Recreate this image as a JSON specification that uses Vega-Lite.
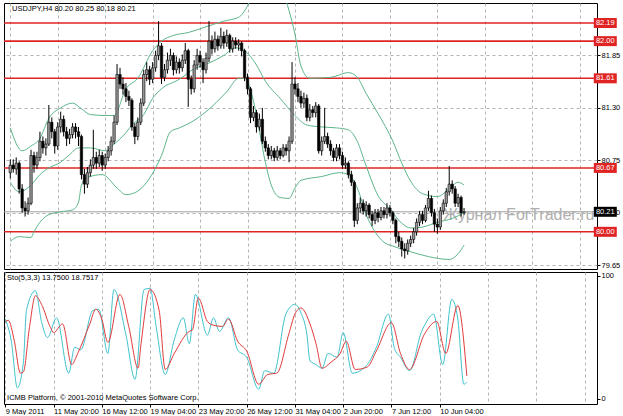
{
  "$schema": "https://vega.github.io/schema/vega-lite/v6.json",
  "padding": {"left": 2, "top": 2, "right": 0, "bottom": 0},
  "autosize": {"type": "pad"},
  "background": "white",
  "spacing": 1,
  "config": {
    "view": {"stroke": "#000", "strokeWidth": 1},
    "font": "Liberation Sans",
    "axis": {"labelFont": "Liberation Sans", "labelFontSize": 7.5, "labelColor": "#000", "tickColor": "#000", "tickSize": 3, "labelPadding": 1, "gridColor": "#b4b4b4", "gridDash": [3, 3], "gridWidth": 1, "domain": false, "title": null, "labelOverlap": false, "labelFlush": false, "labelBound": false}
  },
  "datasets": {
    "candles": [
      {"i":0,"o":80.62,"h":80.76,"l":80.56,"c":80.70},{"i":1,"o":80.70,"h":80.76,"l":80.62,"c":80.66},{"i":2,"o":80.66,"h":80.78,"l":80.60,"c":80.72},{"i":3,"o":80.72,"h":80.74,"l":80.40,"c":80.45},{"i":4,"o":80.45,"h":80.50,"l":80.20,"c":80.25},{"i":5,"o":80.25,"h":80.32,"l":80.16,"c":80.22},{"i":6,"o":80.22,"h":80.36,"l":80.18,"c":80.30},{"i":7,"o":80.30,"h":80.86,"l":80.28,"c":80.80},{"i":8,"o":80.80,"h":80.84,"l":80.62,"c":80.70},{"i":9,"o":80.70,"h":80.84,"l":80.66,"c":80.78},
      {"i":10,"o":80.78,"h":81.05,"l":80.74,"c":80.95},{"i":11,"o":80.95,"h":81.00,"l":80.82,"c":80.88},{"i":12,"o":80.88,"h":80.98,"l":80.80,"c":80.92},{"i":13,"o":80.92,"h":81.33,"l":80.90,"c":81.15},{"i":14,"o":81.15,"h":81.20,"l":80.98,"c":81.05},{"i":15,"o":81.05,"h":81.08,"l":80.82,"c":80.90},{"i":16,"o":80.90,"h":81.15,"l":80.86,"c":81.10},{"i":17,"o":81.10,"h":81.26,"l":81.04,"c":81.18},{"i":18,"o":81.18,"h":81.22,"l":81.00,"c":81.05},{"i":19,"o":81.05,"h":81.10,"l":80.90,"c":80.98},
      {"i":20,"o":80.98,"h":81.08,"l":80.92,"c":81.02},{"i":21,"o":81.02,"h":81.14,"l":80.98,"c":81.10},{"i":22,"o":81.10,"h":81.14,"l":80.98,"c":81.05},{"i":23,"o":81.05,"h":81.10,"l":80.90,"c":81.00},{"i":24,"o":81.00,"h":81.02,"l":80.55,"c":80.60},{"i":25,"o":80.60,"h":80.66,"l":80.40,"c":80.50},{"i":26,"o":80.50,"h":80.68,"l":80.46,"c":80.62},{"i":27,"o":80.62,"h":80.76,"l":80.58,"c":80.70},{"i":28,"o":80.70,"h":81.07,"l":80.66,"c":80.78},{"i":29,"o":80.78,"h":80.84,"l":80.66,"c":80.72},
      {"i":30,"o":80.72,"h":80.86,"l":80.68,"c":80.80},{"i":31,"o":80.80,"h":80.84,"l":80.64,"c":80.70},{"i":32,"o":80.70,"h":80.82,"l":80.66,"c":80.78},{"i":33,"o":80.78,"h":80.90,"l":80.74,"c":80.85},{"i":34,"o":80.85,"h":81.00,"l":80.80,"c":80.95},{"i":35,"o":80.95,"h":81.22,"l":80.92,"c":81.15},{"i":36,"o":81.15,"h":81.76,"l":81.12,"c":81.65},{"i":37,"o":81.65,"h":81.72,"l":81.50,"c":81.55},{"i":38,"o":81.55,"h":81.62,"l":81.44,"c":81.50},{"i":39,"o":81.50,"h":81.56,"l":81.36,"c":81.42},
      {"i":40,"o":81.42,"h":81.48,"l":81.32,"c":81.38},{"i":41,"o":81.38,"h":81.40,"l":81.06,"c":81.10},{"i":42,"o":81.10,"h":81.14,"l":80.92,"c":81.00},{"i":43,"o":81.00,"h":81.20,"l":80.96,"c":81.15},{"i":44,"o":81.15,"h":81.40,"l":81.12,"c":81.35},{"i":45,"o":81.35,"h":81.70,"l":81.32,"c":81.65},{"i":46,"o":81.65,"h":81.78,"l":81.58,"c":81.70},{"i":47,"o":81.70,"h":81.74,"l":81.54,"c":81.60},{"i":48,"o":81.60,"h":81.78,"l":81.56,"c":81.72},{"i":49,"o":81.72,"h":81.90,"l":81.68,"c":81.85},
      {"i":50,"o":81.85,"h":82.21,"l":81.80,"c":81.95},{"i":51,"o":81.95,"h":81.98,"l":81.55,"c":81.62},{"i":52,"o":81.62,"h":81.76,"l":81.58,"c":81.70},{"i":53,"o":81.70,"h":81.88,"l":81.66,"c":81.80},{"i":54,"o":81.80,"h":81.92,"l":81.74,"c":81.85},{"i":55,"o":81.85,"h":81.88,"l":81.64,"c":81.70},{"i":56,"o":81.70,"h":81.84,"l":81.66,"c":81.78},{"i":57,"o":81.78,"h":81.82,"l":81.66,"c":81.72},{"i":58,"o":81.72,"h":81.86,"l":81.68,"c":81.80},{"i":59,"o":81.80,"h":81.98,"l":81.76,"c":81.90},
      {"i":60,"o":81.90,"h":81.92,"l":81.31,"c":81.60},{"i":61,"o":81.60,"h":81.64,"l":81.44,"c":81.50},{"i":62,"o":81.50,"h":81.80,"l":81.46,"c":81.75},{"i":63,"o":81.75,"h":81.92,"l":81.70,"c":81.85},{"i":64,"o":81.85,"h":81.90,"l":81.72,"c":81.78},{"i":65,"o":81.78,"h":81.82,"l":81.56,"c":81.70},{"i":66,"o":81.70,"h":81.88,"l":81.66,"c":81.82},{"i":67,"o":81.82,"h":82.21,"l":81.78,"c":82.00},{"i":68,"o":82.00,"h":82.06,"l":81.86,"c":81.92},{"i":69,"o":81.92,"h":82.10,"l":81.88,"c":82.02},
      {"i":70,"o":82.02,"h":82.06,"l":81.90,"c":81.95},{"i":71,"o":81.95,"h":82.14,"l":81.92,"c":82.05},{"i":72,"o":82.05,"h":82.10,"l":81.92,"c":81.98},{"i":73,"o":81.98,"h":82.12,"l":81.94,"c":82.06},{"i":74,"o":82.06,"h":82.08,"l":81.88,"c":81.92},{"i":75,"o":81.92,"h":82.04,"l":81.88,"c":82.00},{"i":76,"o":82.00,"h":82.04,"l":81.92,"c":81.96},{"i":77,"o":81.96,"h":82.02,"l":81.90,"c":81.98},{"i":78,"o":81.98,"h":82.00,"l":81.84,"c":81.90},{"i":79,"o":81.90,"h":81.92,"l":81.58,"c":81.62},
      {"i":80,"o":81.62,"h":81.66,"l":81.44,"c":81.50},{"i":81,"o":81.50,"h":81.52,"l":81.14,"c":81.20},{"i":82,"o":81.20,"h":81.32,"l":81.16,"c":81.25},{"i":83,"o":81.25,"h":81.28,"l":81.04,"c":81.10},{"i":84,"o":81.10,"h":81.24,"l":81.06,"c":81.18},{"i":85,"o":81.18,"h":81.30,"l":80.92,"c":80.95},{"i":86,"o":80.95,"h":81.00,"l":80.84,"c":80.88},{"i":87,"o":80.88,"h":80.92,"l":80.76,"c":80.80},{"i":88,"o":80.80,"h":80.90,"l":80.76,"c":80.85},{"i":89,"o":80.85,"h":80.88,"l":80.74,"c":80.78},
      {"i":90,"o":80.78,"h":80.90,"l":80.75,"c":80.85},{"i":91,"o":80.85,"h":80.88,"l":80.76,"c":80.80},{"i":92,"o":80.80,"h":80.92,"l":80.78,"c":80.88},{"i":93,"o":80.88,"h":80.92,"l":80.80,"c":80.85},{"i":94,"o":80.85,"h":81.00,"l":80.73,"c":80.95},{"i":95,"o":80.95,"h":81.78,"l":80.92,"c":81.55},{"i":96,"o":81.55,"h":81.62,"l":81.44,"c":81.50},{"i":97,"o":81.50,"h":81.56,"l":81.36,"c":81.42},{"i":98,"o":81.42,"h":81.48,"l":81.30,"c":81.35},{"i":99,"o":81.35,"h":81.46,"l":81.30,"c":81.40},
      {"i":100,"o":81.40,"h":81.44,"l":81.16,"c":81.20},{"i":101,"o":81.20,"h":81.34,"l":81.16,"c":81.28},{"i":102,"o":81.28,"h":81.32,"l":81.20,"c":81.25},{"i":103,"o":81.25,"h":81.36,"l":81.20,"c":81.32},{"i":104,"o":81.32,"h":81.34,"l":80.82,"c":80.85},{"i":105,"o":80.85,"h":81.00,"l":80.80,"c":80.95},{"i":106,"o":80.95,"h":81.30,"l":80.92,"c":81.00},{"i":107,"o":81.00,"h":81.04,"l":80.88,"c":80.92},{"i":108,"o":80.92,"h":80.96,"l":80.80,"c":80.85},{"i":109,"o":80.85,"h":80.88,"l":80.74,"c":80.78},
      {"i":110,"o":80.78,"h":80.92,"l":80.74,"c":80.88},{"i":111,"o":80.88,"h":80.92,"l":80.76,"c":80.80},{"i":112,"o":80.80,"h":80.84,"l":80.66,"c":80.70},{"i":113,"o":80.70,"h":80.78,"l":80.66,"c":80.72},{"i":114,"o":80.72,"h":80.74,"l":80.56,"c":80.60},{"i":115,"o":80.60,"h":80.64,"l":80.48,"c":80.52},{"i":116,"o":80.52,"h":80.54,"l":80.05,"c":80.12},{"i":117,"o":80.12,"h":80.30,"l":80.08,"c":80.25},{"i":118,"o":80.25,"h":80.36,"l":80.20,"c":80.30},{"i":119,"o":80.30,"h":80.34,"l":80.18,"c":80.22},
      {"i":120,"o":80.22,"h":80.32,"l":80.16,"c":80.28},{"i":121,"o":80.28,"h":80.30,"l":80.14,"c":80.18},{"i":122,"o":80.18,"h":80.22,"l":80.06,"c":80.12},{"i":123,"o":80.12,"h":80.24,"l":80.08,"c":80.20},{"i":124,"o":80.20,"h":80.24,"l":80.10,"c":80.15},{"i":125,"o":80.15,"h":80.26,"l":80.12,"c":80.22},{"i":126,"o":80.22,"h":80.26,"l":80.14,"c":80.18},{"i":127,"o":80.18,"h":80.30,"l":80.14,"c":80.25},{"i":128,"o":80.25,"h":80.28,"l":80.16,"c":80.20},{"i":129,"o":80.20,"h":80.22,"l":80.08,"c":80.12},
      {"i":130,"o":80.12,"h":80.14,"l":79.88,"c":79.95},{"i":131,"o":79.95,"h":80.00,"l":79.84,"c":79.90},{"i":132,"o":79.90,"h":79.94,"l":79.74,"c":79.82},{"i":133,"o":79.82,"h":79.88,"l":79.72,"c":79.80},{"i":134,"o":79.80,"h":79.92,"l":79.76,"c":79.88},{"i":135,"o":79.88,"h":79.96,"l":79.84,"c":79.92},{"i":136,"o":79.92,"h":80.04,"l":79.88,"c":80.00},{"i":137,"o":80.00,"h":80.14,"l":79.96,"c":80.10},{"i":138,"o":80.10,"h":80.22,"l":80.06,"c":80.18},{"i":139,"o":80.18,"h":80.22,"l":80.08,"c":80.12},
      {"i":140,"o":80.12,"h":80.28,"l":80.10,"c":80.25},{"i":141,"o":80.25,"h":80.43,"l":80.22,"c":80.35},{"i":142,"o":80.35,"h":80.38,"l":80.16,"c":80.20},{"i":143,"o":80.20,"h":80.24,"l":80.00,"c":80.08},{"i":144,"o":80.08,"h":80.14,"l":79.98,"c":80.05},{"i":145,"o":80.05,"h":80.26,"l":80.02,"c":80.22},{"i":146,"o":80.22,"h":80.34,"l":80.18,"c":80.30},{"i":147,"o":80.30,"h":80.46,"l":80.26,"c":80.42},{"i":148,"o":80.42,"h":80.69,"l":80.38,"c":80.50},{"i":149,"o":80.50,"h":80.54,"l":80.40,"c":80.45},
      {"i":150,"o":80.45,"h":80.48,"l":80.26,"c":80.30},{"i":151,"o":80.30,"h":80.40,"l":80.26,"c":80.36},{"i":152,"o":80.36,"h":80.38,"l":80.16,"c":80.20},{"i":153,"o":80.20,"h":80.25,"l":80.18,"c":80.21}
    ],
    "bands": [
      {"i":0,"b":"u","p":81.09},{"i":4,"b":"u","p":80.85},{"i":7,"b":"u","p":80.90},{"i":10,"b":"u","p":80.98},{"i":13,"b":"u","p":81.19},{"i":17,"b":"u","p":81.30},{"i":21,"b":"u","p":81.35},{"i":24,"b":"u","p":81.29},{"i":27,"b":"u","p":81.23},{"i":32,"b":"u","p":81.22},{"i":35,"b":"u","p":81.22},{"i":39,"b":"u","p":81.50},{"i":43,"b":"u","p":81.61},{"i":48,"b":"u","p":81.90},{"i":51,"b":"u","p":82.00},{"i":55,"b":"u","p":82.06},{"i":60,"b":"u","p":82.09},{"i":65,"b":"u","p":82.14},{"i":72,"b":"u","p":82.21},{"i":77,"b":"u","p":82.25},{"i":80,"b":"u","p":82.37},{"i":82,"b":"u","p":82.50},{"i":86,"b":"u","p":82.58},{"i":90,"b":"u","p":82.58},{"i":92,"b":"u","p":82.50},{"i":94,"b":"u","p":82.32},{"i":96,"b":"u","p":82.07},{"i":98,"b":"u","p":81.74},{"i":101,"b":"u","p":81.61},{"i":108,"b":"u","p":81.62},{"i":114,"b":"u","p":81.67},{"i":117,"b":"u","p":81.62},{"i":120,"b":"u","p":81.45},{"i":124,"b":"u","p":81.24},{"i":129,"b":"u","p":80.95},{"i":132,"b":"u","p":80.72},{"i":135,"b":"u","p":80.53},{"i":139,"b":"u","p":80.40},{"i":144,"b":"u","p":80.37},{"i":148,"b":"u","p":80.45},{"i":151,"b":"u","p":80.52},{"i":153,"b":"u","p":80.49},
      {"i":0,"b":"m","p":80.52},{"i":3,"b":"m","p":80.42},{"i":7,"b":"m","p":80.49},{"i":10,"b":"m","p":80.60},{"i":13,"b":"m","p":80.67},{"i":17,"b":"m","p":80.73},{"i":20,"b":"m","p":80.81},{"i":23,"b":"m","p":80.88},{"i":27,"b":"m","p":80.88},{"i":32,"b":"m","p":80.85},{"i":35,"b":"m","p":80.92},{"i":39,"b":"m","p":81.04},{"i":41,"b":"m","p":81.12},{"i":45,"b":"m","p":81.23},{"i":48,"b":"m","p":81.40},{"i":51,"b":"m","p":81.50},{"i":57,"b":"m","p":81.60},{"i":62,"b":"m","p":81.71},{"i":67,"b":"m","p":81.77},{"i":72,"b":"m","p":81.85},{"i":76,"b":"m","p":81.93},{"i":79,"b":"m","p":81.90},{"i":83,"b":"m","p":81.75},{"i":86,"b":"m","p":81.58},{"i":91,"b":"m","p":81.40},{"i":96,"b":"m","p":81.22},{"i":100,"b":"m","p":81.12},{"i":105,"b":"m","p":81.10},{"i":110,"b":"m","p":81.09},{"i":114,"b":"m","p":81.07},{"i":117,"b":"m","p":80.95},{"i":120,"b":"m","p":80.69},{"i":124,"b":"m","p":80.38},{"i":128,"b":"m","p":80.24},{"i":132,"b":"m","p":80.09},{"i":135,"b":"m","p":80.04},{"i":139,"b":"m","p":80.05},{"i":144,"b":"m","p":80.10},{"i":149,"b":"m","p":80.14},{"i":153,"b":"m","p":80.20},
      {"i":0,"b":"l","p":79.90},{"i":3,"b":"l","p":79.95},{"i":7,"b":"l","p":79.94},{"i":8,"b":"l","p":80.00},{"i":10,"b":"l","p":80.10},{"i":13,"b":"l","p":80.18},{"i":17,"b":"l","p":80.21},{"i":21,"b":"l","p":80.23},{"i":23,"b":"l","p":80.31},{"i":24,"b":"l","p":80.49},{"i":26,"b":"l","p":80.57},{"i":31,"b":"l","p":80.60},{"i":36,"b":"l","p":80.46},{"i":39,"b":"l","p":80.39},{"i":42,"b":"l","p":80.41},{"i":46,"b":"l","p":80.52},{"i":49,"b":"l","p":80.67},{"i":51,"b":"l","p":80.80},{"i":54,"b":"l","p":81.05},{"i":57,"b":"l","p":81.09},{"i":61,"b":"l","p":81.15},{"i":66,"b":"l","p":81.26},{"i":73,"b":"l","p":81.47},{"i":77,"b":"l","p":81.61},{"i":79,"b":"l","p":81.61},{"i":82,"b":"l","p":81.37},{"i":84,"b":"l","p":81.06},{"i":86,"b":"l","p":80.73},{"i":88,"b":"l","p":80.49},{"i":91,"b":"l","p":80.36},{"i":94,"b":"l","p":80.35},{"i":96,"b":"l","p":80.46},{"i":98,"b":"l","p":80.54},{"i":105,"b":"l","p":80.58},{"i":111,"b":"l","p":80.62},{"i":114,"b":"l","p":80.60},{"i":117,"b":"l","p":80.46},{"i":120,"b":"l","p":80.18},{"i":123,"b":"l","p":80.00},{"i":126,"b":"l","p":79.89},{"i":129,"b":"l","p":79.85},{"i":134,"b":"l","p":79.80},{"i":141,"b":"l","p":79.74},{"i":148,"b":"l","p":79.71},{"i":151,"b":"l","p":79.77},{"i":153,"b":"l","p":79.86}
    ],
    "stochK": [
      {"i":0,"v":65},{"i":2,"v":47},{"i":4,"v":9},{"i":6,"v":30},{"i":7,"v":72},{"i":10,"v":88},{"i":12,"v":63},{"i":14,"v":50},{"i":17,"v":66},{"i":21,"v":21},{"i":23,"v":42},{"i":25,"v":40},{"i":29,"v":72},{"i":31,"v":73},{"i":34,"v":37},{"i":36,"v":89},{"i":40,"v":52},{"i":43,"v":16},{"i":46,"v":89},{"i":48,"v":90},{"i":50,"v":59},{"i":53,"v":20},{"i":56,"v":48},{"i":59,"v":66},{"i":61,"v":45},{"i":63,"v":85},{"i":67,"v":52},{"i":69,"v":66},{"i":71,"v":55},{"i":74,"v":66},{"i":77,"v":40},{"i":80,"v":34},{"i":84,"v":8},{"i":86,"v":23},{"i":89,"v":21},{"i":93,"v":69},{"i":96,"v":77},{"i":98,"v":70},{"i":100,"v":52},{"i":101,"v":31},{"i":103,"v":28},{"i":105,"v":25},{"i":107,"v":37},{"i":110,"v":34},{"i":112,"v":54},{"i":115,"v":21},{"i":120,"v":28},{"i":123,"v":42},{"i":127,"v":69},{"i":129,"v":41},{"i":131,"v":34},{"i":134,"v":23},{"i":138,"v":55},{"i":139,"v":60},{"i":142,"v":69},{"i":145,"v":28},{"i":148,"v":81},{"i":150,"v":65},{"i":152,"v":12},{"i":153,"v":13.75}
    ],
    "stochD": [
      {"i":0,"v":63},{"i":1,"v":64},{"i":3,"v":47},{"i":5,"v":21},{"i":6,"v":22},{"i":8,"v":58},{"i":10,"v":84},{"i":12,"v":77},{"i":15,"v":58},{"i":16,"v":54},{"i":19,"v":61},{"i":22,"v":28},{"i":24,"v":37},{"i":28,"v":61},{"i":30,"v":73},{"i":32,"v":65},{"i":34,"v":46},{"i":38,"v":85},{"i":41,"v":58},{"i":44,"v":25},{"i":45,"v":45},{"i":48,"v":89},{"i":51,"v":72},{"i":53,"v":24},{"i":56,"v":37},{"i":61,"v":55},{"i":62,"v":56},{"i":64,"v":82},{"i":67,"v":63},{"i":69,"v":60},{"i":72,"v":59},{"i":74,"v":65},{"i":77,"v":47},{"i":80,"v":39},{"i":84,"v":12},{"i":87,"v":20},{"i":90,"v":21},{"i":94,"v":53},{"i":96,"v":69},{"i":98,"v":74},{"i":101,"v":61},{"i":103,"v":45},{"i":105,"v":25},{"i":108,"v":30},{"i":111,"v":37},{"i":113,"v":47},{"i":116,"v":24},{"i":120,"v":26},{"i":123,"v":39},{"i":128,"v":62},{"i":131,"v":37},{"i":134,"v":24},{"i":139,"v":53},{"i":143,"v":63},{"i":146,"v":37},{"i":150,"v":76},{"i":153,"v":18.75}
    ],
    "levels": [
      {"p":82.19,"t":"82.19"},{"p":82.00,"t":"82.00"},{"p":81.61,"t":"81.61"},{"p":80.67,"t":"80.67"},{"p":80.00,"t":"80.00"}
    ],
    "bid": [{"p":80.21,"t":"80.21"}]
  },
  "vconcat": [
    {
      "width": 593,
      "height": 266,
      "layer": [
        {
          "data": {"name": "bid"},
          "mark": {"type": "rule", "color": "#a0a0a0", "strokeWidth": 1},
          "encoding": {
            "y": {"field": "p", "type": "quantitative", "scale": {"domain": [79.61, 82.40], "nice": false, "zero": false},
              "axis": {"orient": "right", "values": [82.15, 81.85, 81.6, 81.3, 81.05, 80.75, 80.5, 80.2, 79.95, 79.65], "format": ".2f", "grid": true}}
          }
        },
        {
          "data": {"name": "levels"},
          "mark": {"type": "rule", "color": "#e02424", "strokeWidth": 1.6},
          "encoding": {
            "y": {"field": "p", "type": "quantitative", "scale": {"domain": [79.61, 82.40], "nice": false, "zero": false}}
          }
        },
        {
          "data": {"values": [{"t": "Журнал ForTrader.ru"}]},
          "mark": {"type": "text", "align": "left", "baseline": "middle", "fontSize": 16, "color": "#b0b0b0", "font": "Liberation Sans"},
          "encoding": {
            "x": {"datum": 146.0},
            "y": {"datum": 80.177},
            "text": {"field": "t"}
          }
        },
        {
          "data": {"name": "bands"},
          "mark": {"type": "line", "color": "#5cb58a", "strokeWidth": 1, "clip": true, "interpolate": "monotone"},
          "encoding": {
            "x": {"field": "i", "type": "quantitative", "scale": {"domain": [-0.43, 196.14], "nice": false, "zero": false},
              "axis": {"orient": "bottom", "values": [0,8,16,24,32,40,48,56,64,72,80,88,96,104,112,120,128,136,144,152,160,168,176,184,192], "labels": false, "ticks": false, "grid": true}},
            "y": {"field": "p", "type": "quantitative", "scale": {"domain": [79.61, 82.40], "nice": false, "zero": false}},
            "detail": {"field": "b"}
          }
        },
        {
          "data": {"name": "candles"},
          "mark": {"type": "rule", "color": "#000", "strokeWidth": 1},
          "encoding": {
            "x": {"field": "i", "type": "quantitative", "scale": {"domain": [-0.43, 196.14], "nice": false, "zero": false}},
            "y": {"field": "l", "type": "quantitative", "scale": {"domain": [79.61, 82.40], "nice": false, "zero": false}},
            "y2": {"field": "h"}
          }
        },
        {
          "data": {"name": "candles"},
          "mark": {"type": "bar", "width": 2.4, "stroke": "#000", "strokeWidth": 0.6},
          "encoding": {
            "x": {"field": "i", "type": "quantitative", "scale": {"domain": [-0.43, 196.14], "nice": false, "zero": false}},
            "y": {"field": "o", "type": "quantitative", "scale": {"domain": [79.61, 82.40], "nice": false, "zero": false}},
            "y2": {"field": "c"},
            "color": {"condition": {"test": "datum.c >= datum.o", "value": "#9a9a9a"}, "value": "#000"}
          }
        },
        {
          "data": {"values": [{"t": "USDJPY,H4  80.20 80.25 80.18 80.21"}]},
          "mark": {"type": "text", "align": "left", "baseline": "middle", "fontSize": 7.5, "color": "#000"},
          "encoding": {
            "x": {"datum": 0.6},
            "y": {"datum": 82.342},
            "text": {"field": "t"}
          }
        },
        {
          "data": {"name": "levels"},
          "mark": {"type": "tick", "orient": "horizontal", "thickness": 10, "opacity": 1, "color": "#e02424"},
          "encoding": {
            "x": {"datum": 200.62},
            "y": {"field": "p", "type": "quantitative", "scale": {"domain": [79.61, 82.40], "nice": false, "zero": false}},
            "size": {"value": 23}
          }
        },
        {
          "data": {"name": "bid"},
          "mark": {"type": "tick", "orient": "horizontal", "thickness": 10, "opacity": 1, "color": "#000"},
          "encoding": {
            "x": {"datum": 200.62},
            "y": {"field": "p", "type": "quantitative", "scale": {"domain": [79.61, 82.40], "nice": false, "zero": false}},
            "size": {"value": 23}
          }
        },
        {
          "data": {"name": "levels"},
          "mark": {"type": "text", "align": "center", "baseline": "middle", "fontSize": 7.5, "color": "#fff"},
          "encoding": {
            "x": {"datum": 200.62},
            "y": {"field": "p", "type": "quantitative", "scale": {"domain": [79.61, 82.40], "nice": false, "zero": false}},
            "text": {"field": "t"}
          }
        },
        {
          "data": {"name": "bid"},
          "mark": {"type": "text", "align": "center", "baseline": "middle", "fontSize": 7.5, "color": "#fff"},
          "encoding": {
            "x": {"datum": 200.62},
            "y": {"field": "p", "type": "quantitative", "scale": {"domain": [79.61, 82.40], "nice": false, "zero": false}},
            "text": {"field": "t"}
          }
        }
      ]
    },
    {
      "width": 593,
      "height": 132,
      "layer": [
        {
          "data": {"name": "stochK"},
          "mark": {"type": "line", "color": "#3fc3cc", "strokeWidth": 1, "interpolate": "monotone"},
          "encoding": {
            "x": {"field": "i", "type": "quantitative", "scale": {"domain": [-0.43, 196.14], "nice": false, "zero": false},
              "axis": {"orient": "bottom", "values": [0,8,16,24,32,40,48,56,64,72,80,88,96,104,112,120,128,136,144,152,160,168,176,184,192], "grid": true, "labelAlign": "left", "labelPadding": 0,
                "labelExpr": "datum.value % 16 == 0 && datum.value <= 144 ? ['9 May 2011','11 May 20:00','16 May 12:00','19 May 04:00','23 May 20:00','26 May 12:00','31 May 04:00','2 Jun 20:00','7 Jun 12:00','10 Jun 04:00'][datum.value / 16] : ''",
                "tickOpacity": {"condition": {"test": "datum.value % 16 != 0 || datum.value > 144", "value": 0}, "value": 1}}},
            "y": {"field": "v", "type": "quantitative", "scale": {"domain": [-4.07, 103.25], "nice": false, "zero": false},
              "axis": {"orient": "right", "values": [0, 100], "grid": false}}
          }
        },
        {
          "data": {"name": "stochD"},
          "mark": {"type": "line", "color": "#e03a3a", "strokeWidth": 1, "interpolate": "monotone"},
          "encoding": {
            "x": {"field": "i", "type": "quantitative", "scale": {"domain": [-0.43, 196.14], "nice": false, "zero": false}},
            "y": {"field": "v", "type": "quantitative", "scale": {"domain": [-4.07, 103.25], "nice": false, "zero": false}}
          }
        },
        {
          "data": {"values": [{"t": "Sto(5,3,3) 13.7500 18.7517"}]},
          "mark": {"type": "text", "align": "left", "baseline": "middle", "fontSize": 7.5, "color": "#000"},
          "encoding": {
            "x": {"datum": 0.6},
            "y": {"datum": 98.4},
            "text": {"field": "t"}
          }
        },
        {
          "data": {"values": [{"t": "ICMB Platform, © 2001-2010 MetaQuotes Software Corp."}]},
          "mark": {"type": "text", "align": "left", "baseline": "middle", "fontSize": 7.5, "color": "#000"},
          "encoding": {
            "x": {"datum": 0.6},
            "y": {"datum": 0.8},
            "text": {"field": "t"}
          }
        }
      ]
    }
  ]
}
